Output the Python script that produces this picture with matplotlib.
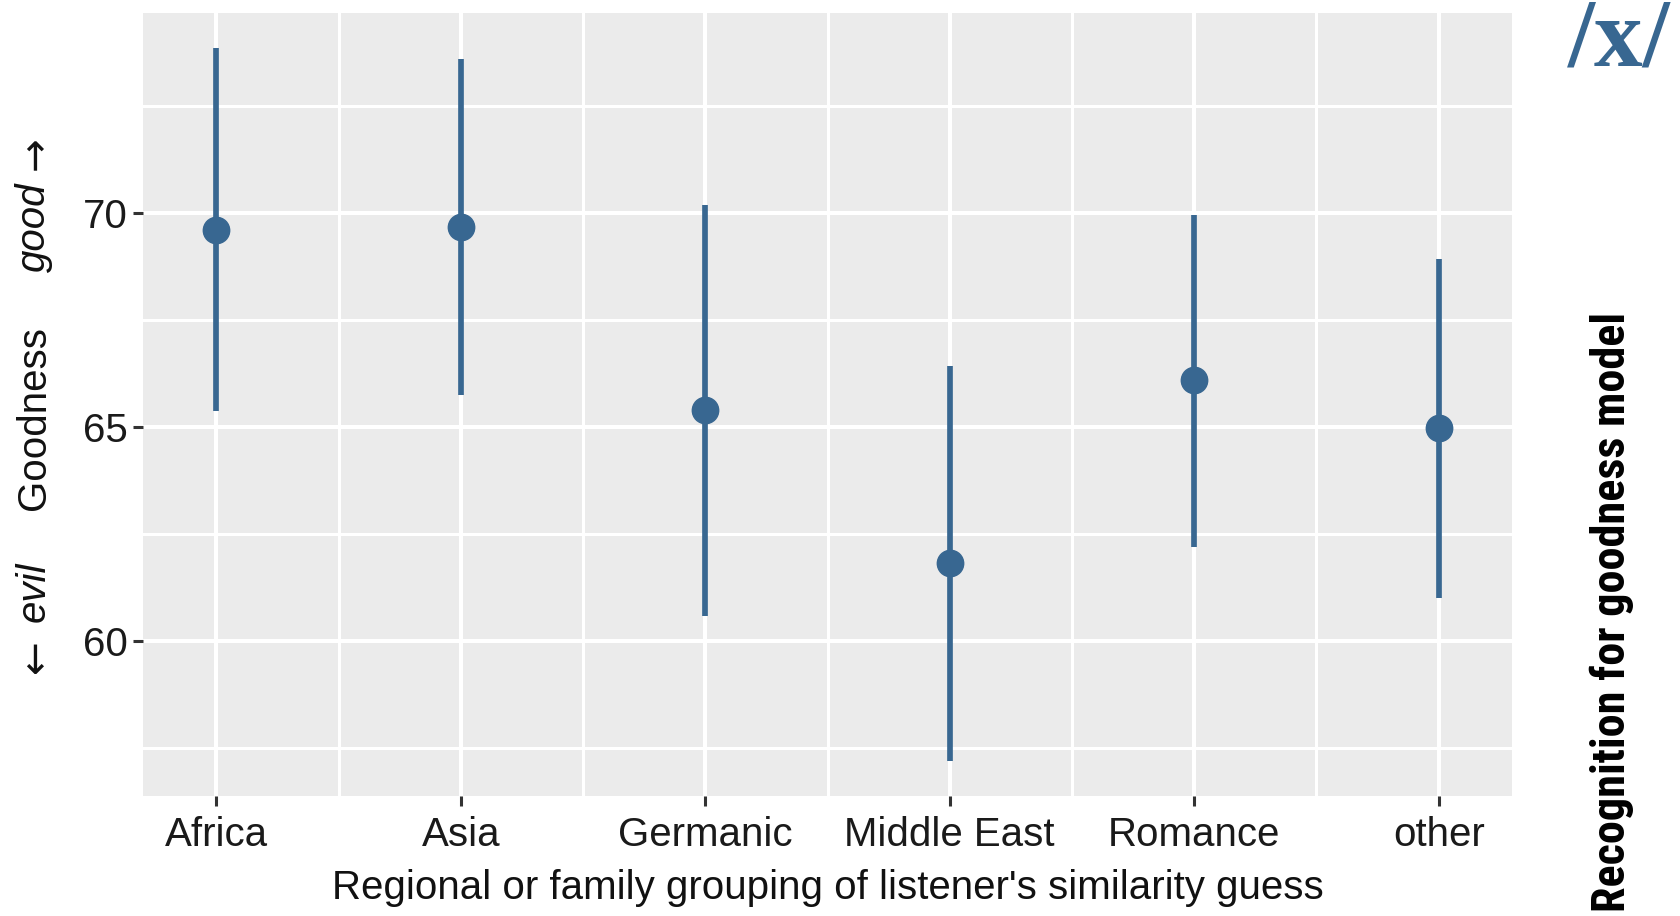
import matplotlib.pyplot as plt
from matplotlib import font_manager
import numpy as np

groups = ['Africa', 'Asia', 'Germanic', 'Middle East', 'Romance', 'other']
goodness = [69.6, 69.68, 65.4, 61.83, 66.1, 64.98]
lower = [65.38, 65.75, 60.58, 57.2, 62.2, 61.0]
upper = [73.85, 73.6, 70.2, 66.43, 69.95, 68.93]

col = '#386791'
plt.rcParams['font.family'] = ['Liberation Sans', 'DejaVu Sans']
installed = {f.name for f in font_manager.fontManager.ttflist}

fig = plt.figure(figsize=(16.8, 9.16), dpi=100)
ax = fig.add_axes([143 / 1680, 1 - 796 / 916, (1512 - 143) / 1680, (796 - 13) / 916])
ax.set_facecolor('#EBEBEB')

x = np.arange(len(groups))
ax.vlines(x, lower, upper, color=col, lw=4.1, zorder=3)
ax.plot(x, goodness, 'o', color=col, ms=19, zorder=4)

ax.set_xlim(-0.3, len(groups) - 0.7)
ax.set_ylim(56.37, 74.68)
ax.set_xticks(x)
ax.set_xticklabels(groups)
ax.set_yticks([60, 65, 70])
ax.set_xticks(x[:-1] + 0.5, minor=True)
ax.set_yticks([57.5, 62.5, 67.5, 72.5], minor=True)
ax.grid(which='major', color='white', lw=2.9)
ax.grid(which='minor', color='white', lw=2.2)
ax.set_axisbelow(True)
for s in ax.spines.values():
    s.set_visible(False)
ax.tick_params(which='major', length=7, width=2.2, color='#333333',
               labelsize=29, labelcolor='#1a1a1a', pad=4)
ax.tick_params(axis='x', which='major', pad=7.5)
ax.tick_params(which='minor', length=0)

ax.set_xlabel("Regional or family grouping of listener's similarity guess",
              fontsize=29, color='#111111', labelpad=11)

# y label made of pieces (italic words with arrows)
yl = dict(rotation=90, fontsize=29, ha='center', va='center', color='#111111')
fig.text(36 / 1680, 1 - 656 / 916, '\u2190', family=['DejaVu Sans'], **yl)
fig.text(34 / 1680, 1 - 592 / 916, 'evil', style='italic', **yl)
fig.text(34 / 1680, 1 - 418 / 916, 'Goodness', **yl)
fig.text(34 / 1680, 1 - 227 / 916, 'good', style='italic', **yl)
fig.text(36 / 1680, 1 - 153 / 916, '\u2192', family=['DejaVu Sans'], **yl)

rfam = ['DejaVu Sans']
for name in ['Roboto Condensed', 'Liberation Sans Narrow', 'Roboto']:
    if name in installed:
        rfam = [name]
        break
rt = fig.text(1612 / 1680, 1 - 612 / 916, 'Recognition for goodness model', rotation=90,
              fontsize=30, fontweight='bold', family=rfam,
              ha='center', va='center', color='black')
# scale the font so the label spans the same length as in the original
fig.canvas.draw()
h = rt.get_window_extent().height
rt.set_fontsize(30 * 600 / h)

fig.text(1619 / 1680, 1 - 42 / 916, '/x/', fontsize=70, fontweight='bold',
         family=['Liberation Serif'], ha='center', va='center', color=col)

fig.savefig('out.png', dpi=100)
